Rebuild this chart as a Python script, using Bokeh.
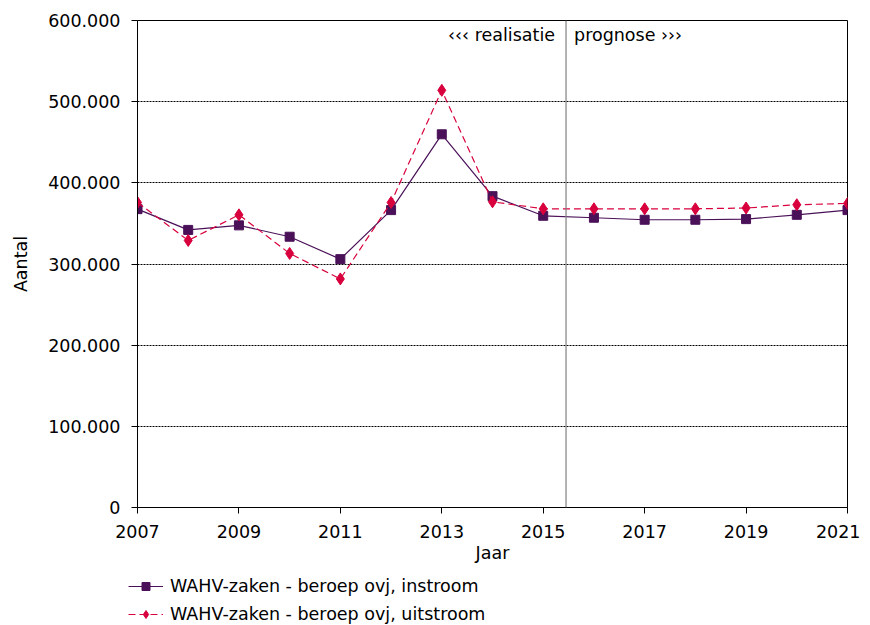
from bokeh.plotting import figure
from bokeh.layouts import column
from bokeh.models import Span, Label, Legend, LegendItem, FixedTicker, Range1d
from bokeh.embed import file_html
from bokeh.resources import INLINE

years = list(range(2007, 2022))
instroom = [367600, 342000, 347600, 333600, 306000, 366400, 459800, 383600,
            359400, 357000, 354500, 354500, 355300, 360600, 366400]
uitstroom = [375800, 329000, 360600, 313000, 281600, 375800, 514000, 376600,
             368000, 368000, 368000, 368000, 369000, 373000, 374600]
x_ticks = [2007, 2009, 2011, 2013, 2015, 2017, 2019, 2021]
y_ticks = [0, 100000, 200000, 300000, 400000, 500000, 600000]
y_labels = ["0", "100.000", "200.000", "300.000", "400.000", "500.000", "600.000"]
divider = 2015.45
left_text = "‹‹‹ realisatie"
right_text = "prognose ›››"
series_names = ["WAHV-zaken - beroep ovj, instroom", "WAHV-zaken - beroep ovj, uitstroom"]

FONT = "DejaVu Sans"
FS = "17.5px"
c_in = "#4a1158"
c_out = "#d8003d"

p = figure(width=860, height=565, output_backend="svg", toolbar_location=None,
           x_range=Range1d(2007, 2021), y_range=Range1d(0, 600000),
           min_border_left=137, min_border_top=20, min_border_right=13,
           min_border_bottom=57)

p.outline_line_color = "black"
p.outline_line_width = 1

p.xaxis.ticker = FixedTicker(ticks=x_ticks)
p.yaxis.ticker = FixedTicker(ticks=y_ticks)
p.yaxis.major_label_overrides = {t: l for t, l in zip(y_ticks, y_labels)}
for ax in (p.xaxis, p.yaxis):
    ax.axis_line_color = "black"
    ax.major_tick_line_color = "black"
    ax.minor_tick_line_color = None
    ax.major_tick_in = 0
    ax.major_tick_out = 6
    ax.major_label_text_font = FONT
    ax.major_label_text_font_size = FS
    ax.major_label_text_color = "black"
    ax.axis_label_text_font = FONT
    ax.axis_label_text_font_size = FS
    ax.axis_label_text_font_style = "normal"
    ax.axis_label_text_color = "black"
p.xaxis.axis_label = "Jaar"
p.yaxis.axis_label = "Aantal"
p.xaxis.major_label_standoff = 11
p.xaxis.axis_label_standoff = 2
p.yaxis.major_label_standoff = 11
p.yaxis.axis_label_standoff = 14

p.xgrid.grid_line_color = None
p.ygrid.grid_line_color = "black"
p.ygrid.grid_line_dash = "2 1"
p.ygrid.grid_line_width = 1

p.add_layout(Span(location=divider, dimension="height", line_color="#808080", line_width=1.2))
p.add_layout(Label(x=divider, y=600000, x_offset=-11, y_offset=-4, text=left_text,
                   text_align="right", text_baseline="top", text_font=FONT,
                   text_font_size=FS, text_color="black"))
p.add_layout(Label(x=divider, y=600000, x_offset=8, y_offset=-4, text=right_text,
                   text_align="left", text_baseline="top", text_font=FONT,
                   text_font_size=FS, text_color="black"))

p.line(years, instroom, line_color=c_in, line_width=1.2)
p.scatter(years, instroom, marker="square", size=9, fill_color=c_in, line_color=c_in)
p.line(years, uitstroom, line_color=c_out, line_width=1.2, line_dash="7 4")
p.scatter(years, uitstroom, marker="diamond", size=12, fill_color=c_out, line_color=c_out)

# legend figure below the chart (glyphs drawn outside its visible range)
q = figure(width=860, height=60, output_backend="svg", toolbar_location=None,
           x_range=Range1d(0, 1), y_range=Range1d(0, 1),
           min_border=0, x_axis_type=None, y_axis_type=None)
q.outline_line_color = None
q.xgrid.grid_line_color = None
q.ygrid.grid_line_color = None
aligned = True
for fig in (p, q):
    if "frame_align" in fig.properties():
        fig.frame_align = False
        aligned = False
l1 = q.line(years, instroom, line_color=c_in, line_width=1.2)
s1 = q.scatter(years, instroom, marker="square", size=9, fill_color=c_in, line_color=c_in)
l2 = q.line(years, uitstroom, line_color=c_out, line_width=1.2, line_dash="7 4")
s2 = q.scatter(years, uitstroom, marker="diamond", size=12, fill_color=c_out, line_color=c_out)

legend = Legend(items=[LegendItem(label=series_names[0], renderers=[l1, s1]),
                       LegendItem(label=series_names[1], renderers=[l2, s2])],
                location=(-9, 1) if aligned else (128, 1), orientation="vertical",
                border_line_color=None, background_fill_alpha=0,
                label_text_font=FONT, label_text_font_size=FS,
                label_text_color="black",
                glyph_width=35, glyph_height=20, spacing=8, padding=0, margin=0,
                label_standoff=7)
q.add_layout(legend, "center")

layout = column(p, q, spacing=0)
open("out.html", "w").write(file_html(layout, INLINE))
